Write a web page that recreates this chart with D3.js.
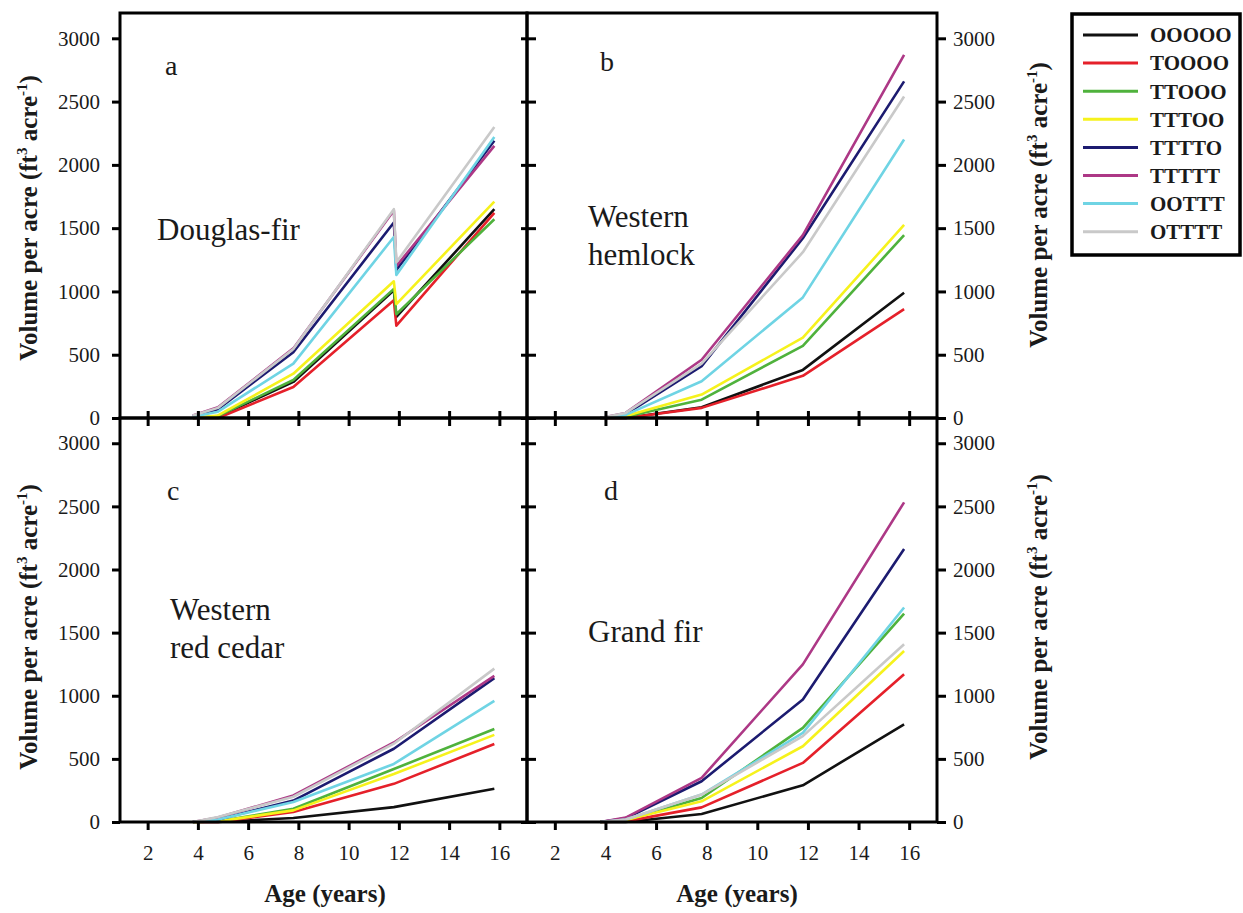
<!DOCTYPE html>
<html>
<head>
<meta charset="utf-8">
<title>Volume per acre by treatment</title>
<script src="https://d3js.org/d3.v7.min.js"></script>
<style>
  body { margin: 0; background: #fff; }
  svg { display: block; }
  svg text { font-family: "Liberation Serif", "DejaVu Serif", serif; }
</style>
</head>
<body>
<div id="chart"></div>
<script>
// Treatment codes and their line colours (legend order)
const treatments = ["OOOOO", "TOOOO", "TTOOO", "TTTOO", "TTTTO", "TTTTT", "OOTTT", "OTTTT"];
const colors = ["#111111", "#e5202a", "#4fb23c", "#f6f21c", "#1c1b70", "#ad3886", "#6fd4e4", "#c9c9c9"];

// Ages (years) at which volume was measured
const ages = [3.8, 4.8, 7.8, 11.8, 15.8];
// Douglas-fir has an extra point just after the age-12 drop
const agesFir = [3.8, 4.8, 7.8, 11.8, 11.9, 15.8];

const xTicks = [2, 4, 6, 8, 10, 12, 14, 16];
const yTicks = [0, 500, 1000, 1500, 2000, 2500, 3000];

// Volume per acre, one row per treatment (same order as treatments)
const firVol = [
  [0, 10, 285, 1010, 800, 1650],
  [0, 0, 245, 930, 730, 1620],
  [0, 15, 300, 1020, 820, 1570],
  [0, 20, 350, 1080, 900, 1710],
  [15, 70, 520, 1545, 1170, 2190],
  [20, 85, 550, 1640, 1200, 2150],
  [10, 50, 430, 1430, 1130, 2220],
  [20, 80, 545, 1650, 1230, 2300]
];
const hemlockVol = [
  [0, 0, 85, 380, 990],
  [0, 0, 80, 333, 860],
  [0, 10, 145, 570, 1445],
  [0, 15, 185, 635, 1525],
  [0, 30, 410, 1420, 2660],
  [0, 40, 460, 1445, 2870],
  [0, 25, 290, 953, 2200],
  [0, 40, 430, 1310, 2540]
];
const cedarVol = [
  [0, 0, 32, 118, 263],
  [0, 0, 79, 302, 618],
  [0, 5, 105, 420, 736],
  [0, 5, 92, 380, 690],
  [0, 20, 170, 580, 1140],
  [0, 35, 210, 630, 1157],
  [0, 20, 158, 460, 960],
  [0, 40, 200, 620, 1215]
];
const grandVol = [
  [0, 0, 64, 291, 773],
  [0, 5, 116, 468, 1170],
  [0, 15, 190, 746, 1651],
  [0, 15, 164, 600, 1355],
  [0, 30, 323, 971, 2162],
  [0, 35, 350, 1249, 2532],
  [0, 20, 217, 706, 1699],
  [0, 20, 217, 680, 1408]
];

const width = 1243, height = 913;
const cols = [[120, 527], [527, 937]];
const rows = [[13, 418], [418, 822]];
const serif = "'Liberation Serif', 'DejaVu Serif', serif";

const panels = [
  { letter: "a", name: ["Douglas-fir"], ages: agesFir, vol: firVol, col: 0, row: 0, lx: 165, ly: 75, nx: 157, ny: 240 },
  { letter: "b", name: ["Western", "hemlock"], ages: ages, vol: hemlockVol, col: 1, row: 0, lx: 600, ly: 71, nx: 588, ny: 227 },
  { letter: "c", name: ["Western", "red cedar"], ages: ages, vol: cedarVol, col: 0, row: 1, lx: 167, ly: 500, nx: 170, ny: 620 },
  { letter: "d", name: ["Grand fir"], ages: ages, vol: grandVol, col: 1, row: 1, lx: 604, ly: 500, nx: 588, ny: 642 }
];

const svg = d3.select("#chart").append("svg")
  .attr("width", width)
  .attr("height", height)
  .attr("font-family", serif);

function styleAxis(g) {
  g.attr("font-family", serif);
  g.select(".domain").remove();
  g.selectAll("line").attr("stroke", "#000").attr("stroke-width", 3);
  g.selectAll("text")
    .attr("fill", "#1a1a1a")
    .attr("font-size", 21);
}

panels.forEach(p => {
  const [x0, x1] = cols[p.col];
  const [y0, y1] = rows[p.row];

  const x = d3.scaleLinear().domain([0.9, 17.1]).range([x0, x1]);
  const y = d3.scaleLinear().domain([0, 3200]).range([y1, y0]);

  const g = svg.append("g");

  // series lines
  const line = d3.line()
    .x((d, i) => x(p.ages[i]))
    .y(d => y(d));

  g.append("g")
    .selectAll("path")
    .data(p.vol)
    .join("path")
    .attr("d", line)
    .attr("fill", "none")
    .attr("stroke", (d, i) => colors[i])
    .attr("stroke-width", 2.6)
    .attr("stroke-linejoin", "round");

  // bottom ticks (labels only on lower row)
  const bottom = g.append("g")
    .attr("transform", `translate(0,${y1})`)
    .call(d3.axisBottom(x)
      .tickValues(xTicks)
      .tickSizeInner(8)
      .tickSizeOuter(0)
      .tickPadding(15)
      .tickFormat(p.row === 1 ? d3.format("d") : () => ""));
  styleAxis(bottom);
  if (p.row === 0) bottom.selectAll(".tick line").attr("y1", -7);

  if (p.col === 0) {
    // outer left axis with labels
    const left = g.append("g")
      .attr("transform", `translate(${x0},0)`)
      .call(d3.axisLeft(y).tickValues(yTicks).tickFormat(d3.format("d"))
        .tickSizeInner(8).tickSizeOuter(0).tickPadding(12));
    styleAxis(left);
    // shared middle edge: ticks crossing both sides
    const mid = g.append("g")
      .attr("transform", `translate(${x1},0)`)
      .call(d3.axisRight(y).tickValues(yTicks).tickSizeInner(9).tickSizeOuter(0).tickFormat(() => ""));
    styleAxis(mid);
    mid.selectAll(".tick line").attr("x1", -6);
  } else {
    const right = g.append("g")
      .attr("transform", `translate(${x1},0)`)
      .call(d3.axisRight(y).tickValues(yTicks).tickFormat(d3.format("d"))
        .tickSizeInner(9).tickSizeOuter(0).tickPadding(7));
    styleAxis(right);
  }

  // frame
  g.append("rect")
    .attr("x", x0).attr("y", y0)
    .attr("width", x1 - x0).attr("height", y1 - y0)
    .attr("fill", "none")
    .attr("stroke", "#000")
    .attr("stroke-width", 3);

  // panel letter and species
  g.append("text")
    .attr("x", p.lx).attr("y", p.ly)
    .attr("font-size", 28)
    .attr("fill", "#1a1a1a")
    .text(p.letter);

  g.append("text")
    .attr("font-size", 31)
    .attr("fill", "#1a1a1a")
    .selectAll("tspan")
    .data(p.name)
    .join("tspan")
    .attr("x", p.nx)
    .attr("y", (d, i) => p.ny + i * 38)
    .text(d => d);
});

// y-axis titles (rotated)
function yTitle(cx, cy) {
  const t = svg.append("text")
    .attr("transform", `translate(${cx},${cy}) rotate(-90)`)
    .attr("text-anchor", "middle")
    .attr("font-size", 25)
    .attr("font-weight", "bold")
    .attr("fill", "#1a1a1a");
  t.append("tspan").text("Volume per acre (ft");
  t.append("tspan").attr("dy", -10).attr("font-size", 15).text("3");
  t.append("tspan").attr("dy", 10).text(" acre");
  t.append("tspan").attr("dy", -10).attr("font-size", 15).text("-1");
  t.append("tspan").attr("dy", 10).text(")");
}
yTitle(37, 218);
yTitle(37, 627);
yTitle(1047, 205);
yTitle(1047, 617);

// x-axis titles
[[325, 902], [737, 902]].forEach(([cx, cy]) => {
  svg.append("text")
    .attr("x", cx).attr("y", cy)
    .attr("text-anchor", "middle")
    .attr("font-size", 25)
    .attr("font-weight", "bold")
    .attr("fill", "#1a1a1a")
    .text("Age (years)");
});

// legend
const legend = svg.append("g");
legend.append("rect")
  .attr("x", 1072).attr("y", 14)
  .attr("width", 168).attr("height", 241)
  .attr("fill", "none")
  .attr("stroke", "#000")
  .attr("stroke-width", 3.5);

const items = legend.selectAll("g.item")
  .data(treatments)
  .join("g")
  .attr("class", "item")
  .attr("transform", (d, i) => `translate(0,${35 + i * 28.1})`);

items.append("line")
  .attr("x1", 1083).attr("x2", 1138)
  .attr("stroke", (d, i) => colors[i])
  .attr("stroke-width", 3);

items.append("text")
  .attr("x", 1150)
  .attr("dy", "0.35em")
  .attr("font-size", 21)
  .attr("font-weight", "bold")
  .attr("fill", "#1a1a1a")
  .text(d => d);
</script>
</body>
</html>
